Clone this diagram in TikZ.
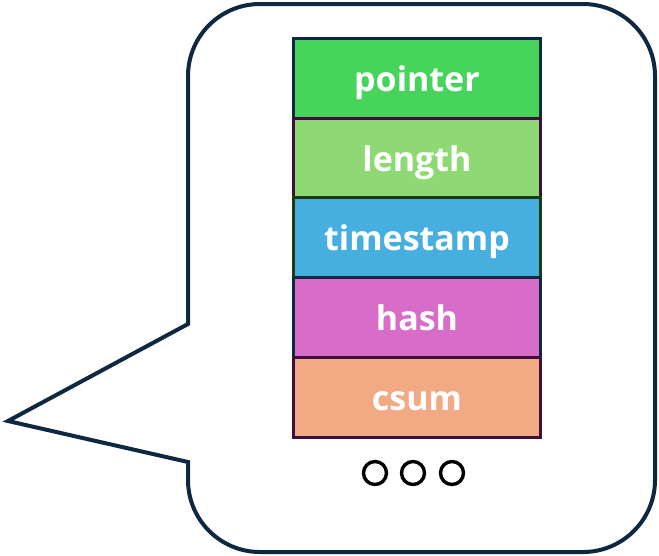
\documentclass[tikz,border=0pt]{standalone}
\usepackage{fontspec}
\setmainfont{Open Sans}
\definecolor{bub}{HTML}{0E2841}
\definecolor{cptr}{HTML}{47D45A}
\definecolor{clen}{HTML}{8FD974}
\definecolor{cts}{HTML}{47AFE0}
\definecolor{chash}{HTML}{D76DC8}
\definecolor{ccsum}{HTML}{F1AA84}
\definecolor{bnavy}{HTML}{0E2841}
\definecolor{bpurp}{HTML}{3E0F3E}
\definecolor{bgreen}{HTML}{1E3A14}
\tikzset{
  field/.style={draw, line width=3pt, minimum width=247pt, minimum height=80pt, inner sep=0pt,
    text height=30pt, text depth=4pt,
    text=white, font=\fontsize{34}{40}\selectfont\bfseries, anchor=north west},
  dot/.style={circle, draw=black, line width=3.4pt, minimum size=23pt, inner sep=0pt}
}
\begin{document}
\begin{tikzpicture}[x=1pt,y=-1pt]
\useasboundingbox (0,0) rectangle (659,555);
\draw[bub, line width=4pt, line join=miter]
  (188,200) -- (188,324) -- (8,421) -- (188,462) -- (188,470)
  [rounded corners=72pt] -- (188,552) -- (655,552) -- (655,4) -- (188,4) -- cycle;
\node[field, fill=cptr, draw=bnavy] (ptr) at (292,37) {pointer};
\node[field, fill=clen, draw=bpurp] (len) at (292,117) {length};
\node[field, fill=cts, draw=bgreen] (ts) at (292,196) {timestamp};
\node[field, fill=chash, draw=bnavy] (hash) at (292,276) {hash};
\node[field, fill=ccsum, draw=bpurp] (csum) at (292,356) {csum};
\node[dot] (d1) at (375,473) {};
\node[dot] (d2) at (413,473) {};
\node[dot] (d3) at (452,473) {};
\end{tikzpicture}
\end{document}
